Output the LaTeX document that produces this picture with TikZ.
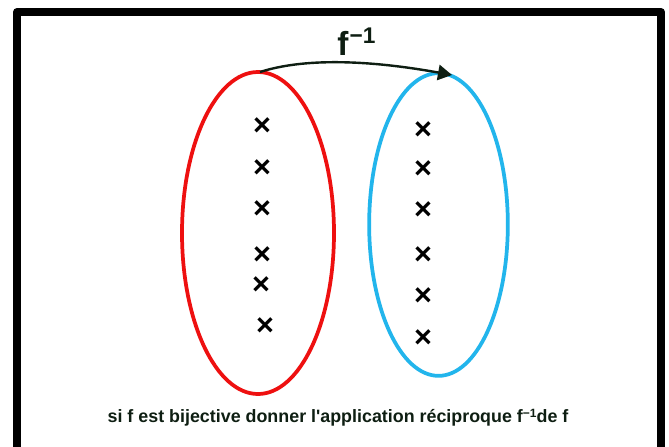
\documentclass[tikz,border=0pt]{standalone}
\usepackage{fontspec}
\newfontfamily\plainsans{Liberation Sans}
\setmainfont{Liberation Sans}
\usetikzlibrary{shapes.geometric,arrows.meta}
\definecolor{setred}{HTML}{EE1010}
\definecolor{setblue}{HTML}{22B5EC}
\definecolor{inkdark}{HTML}{0E1E12}
\tikzset{
  setoval/.style={ellipse,line width=2.8pt,inner sep=0pt,outer sep=0pt},
  cross/.style={font=\fontsize{23}{23}\selectfont\bfseries,inner sep=0pt,text=black},
  caption/.style={font=\plainsans\fontsize{13.4}{15}\selectfont\bfseries,text=inkdark,inner sep=0pt},
  maplabel/.style={font=\fontsize{25}{26}\selectfont\bfseries,text=inkdark,inner sep=0pt},
}
\begin{document}
\begin{tikzpicture}[x=0.75pt,y=-0.75pt]
\useasboundingbox (0,0) rectangle (669,447);
\fill[white] (0,0) rectangle (669,447);
\draw[black,line width=6pt,line join=round] (17,460) -- (17,12) -- (661,12) -- (661,460);
\node[setoval,draw=setred,minimum width=114pt,minimum height=241.5pt] (A) at (258,233) {};
\node[setoval,draw=setblue,minimum width=104pt,minimum height=227pt] (B) at (438.5,224.5) {};
\coordinate (Bend) at (452,75);
\draw[inkdark,line width=1.8pt,-{Triangle[length=10.5pt,width=11.5pt]}] (A.north) ++(2,0) coordinate (Astart) (Astart) .. controls (310,56) and (380,62) .. (Bend);
\node[maplabel,anchor=base west] (L) at (337,55) {f\kern1pt\raisebox{9pt}{\fontsize{17}{17}\selectfont −1}};
\foreach \n/\x/\y in {a1/262/127,a2/262/169,a3/262/210,a4/262/256,a5/261/286,a6/265/327,b1/423/131,b2/423/170,b3/423/211,b4/423/256,b5/423/297,b6/423/339}
  \node[cross] (\n) at (\x,\y) {×};
\node[caption,anchor=base] (C) at (338,422) {si f est bijective donner l'application réciproque f\raisebox{3.5pt}{\fontsize{9}{9}\selectfont −1}de f};
\end{tikzpicture}
\end{document}
